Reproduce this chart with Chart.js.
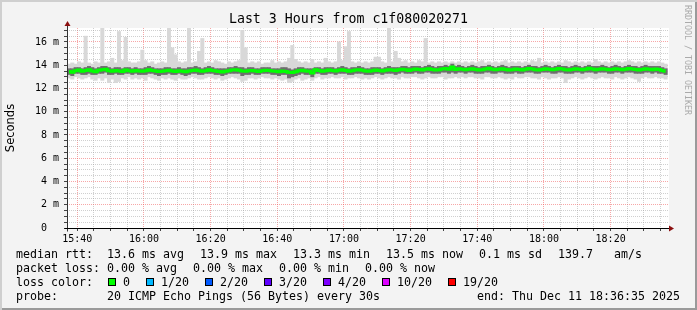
<!DOCTYPE html>
<html>
<head>
<meta charset="utf-8">
<script src="https://cdn.jsdelivr.net/npm/chart.js@4.4.1/dist/chart.umd.min.js"></script>
<style>
  html, body { margin: 0; padding: 0; background: #f3f3f3; }
  #wrap {
    position: relative; width: 697px; height: 310px; overflow: hidden;
    background: #f3f3f3;
    box-shadow: inset 2px 2px 0 #cfcfcf, inset -2px -2px 0 #9a9a9a;
  }
  #chart { position: absolute; left: 0; top: 0; }
  .mono { position: absolute; font-family: "DejaVu Sans Mono", monospace; color: #000; white-space: pre; }
  #title { left: 0; width: 697px; text-align: center; top: 11px; font-size: 13.24px; line-height: 16px; }
  #credit { left: 683px; top: 5px; font-size: 8.3px; line-height: 10px; color: #aaa; writing-mode: vertical-rl; }
  .leg { left: 16px; font-size: 11.63px; line-height: 14px; }
  .lab { display: inline-block; width: 91px; }
  .gap { display: inline-block; width: 16px; }
  .sq { display: inline-block; width: 6px; height: 6px; border: 1px solid #000; margin: 0 7px 0 1px; }
  #end { right: 17px; left: auto; }
</style>
</head>
<body>
<div id="wrap">
  <canvas id="chart" width="697" height="310"></canvas>
  <div id="title" class="mono">Last 3 Hours from c1f080020271</div>
  <div id="credit" class="mono">RRDTOOL / TOBI OETIKER</div>
  <div id="leg1" class="mono leg" style="top:247px"></div>
  <div id="leg2" class="mono leg" style="top:261px"></div>
  <div id="leg3" class="mono leg" style="top:275px"></div>
  <div id="leg4" class="mono leg" style="top:289px"></div>
  <div id="end" class="mono leg" style="top:289px"></div>
</div>
<script>
// one sample per minute, first one at 15:37 (minutes counted from 15:00)
const startMinute = 37;

const median = [
  13.45,13.40,13.52,13.58,13.47,13.55,13.62,13.50,13.44,13.56,13.60,13.65,13.52,13.48,13.55,13.50,13.46,13.58,13.52,13.49,
  13.55,13.50,13.47,13.52,13.60,13.54,13.50,13.45,13.48,13.52,13.56,13.50,13.46,13.53,13.49,13.44,13.50,13.55,13.58,13.52,
  13.48,13.52,13.60,13.55,13.50,13.46,13.42,13.48,13.53,13.58,13.62,13.56,13.50,13.47,13.52,13.55,13.50,13.46,13.52,13.57,
  13.54,13.50,13.47,13.44,13.50,13.46,13.40,13.38,13.44,13.52,13.56,13.50,13.47,13.32,13.60,13.55,13.49,13.52,13.58,13.54,
  13.50,13.56,13.60,13.55,13.48,13.52,13.58,13.62,13.56,13.50,13.47,13.53,13.58,13.55,13.50,13.56,13.62,13.58,13.54,13.60,
  13.65,13.60,13.55,13.62,13.68,13.63,13.58,13.66,13.70,13.64,13.58,13.62,13.68,13.72,13.66,13.85,13.64,13.70,13.65,13.60,
  13.66,13.70,13.64,13.58,13.62,13.68,13.74,13.66,13.60,13.65,13.70,13.64,13.58,13.62,13.68,13.63,13.58,13.66,13.72,13.67,
  13.62,13.58,13.64,13.70,13.66,13.60,13.65,13.72,13.68,13.62,13.58,13.64,13.70,13.66,13.61,13.66,13.74,13.68,13.62,13.66,
  13.70,13.66,13.60,13.64,13.70,13.65,13.60,13.66,13.72,13.68,13.63,13.58,13.64,13.70,13.66,13.62,13.68,13.64,13.55,13.48
];

// darker smoke around the median
const coreLo = [
  13.2,13.1,13.3,13.3,13.2,13.2,13.3,13.2,13.2,13.3,13.3,13.4,13.2,13.2,13.3,13.2,13.2,13.3,13.3,13.2,
  13.3,13.2,13.2,13.2,13.3,13.3,13.2,13.1,13.2,13.2,13.3,13.2,13.2,13.3,13.2,13.1,13.2,13.3,13.3,13.2,
  13.2,13.3,13.3,13.3,13.2,13.2,13.1,13.2,13.3,13.3,13.3,13.3,13.1,13.2,13.2,13.3,13.2,13.2,13.3,13.3,
  13.3,13.2,13.2,13.1,13.2,13.2,12.9,13.0,13.1,13.2,13.3,13.2,13.2,13.0,13.3,13.3,13.2,13.2,13.3,13.3,
  13.2,13.3,13.3,13.3,13.2,13.2,13.3,13.3,13.3,13.2,13.2,13.2,13.3,13.3,13.2,13.3,13.3,13.3,13.2,13.3,
  13.4,13.3,13.3,13.3,13.4,13.3,13.3,13.4,13.4,13.3,13.3,13.3,13.4,13.4,13.3,13.4,13.3,13.4,13.4,13.3,
  13.4,13.4,13.3,13.3,13.3,13.4,13.4,13.3,13.3,13.4,13.4,13.3,13.3,13.3,13.4,13.3,13.3,13.4,13.4,13.4,
  13.3,13.3,13.4,13.4,13.4,13.3,13.3,13.4,13.4,13.3,13.3,13.3,13.4,13.4,13.3,13.4,13.4,13.4,13.3,13.4,
  13.4,13.4,13.3,13.3,13.4,13.4,13.3,13.4,13.4,13.4,13.3,13.3,13.3,13.4,13.4,13.3,13.4,13.3,13.3,13.2
];
const coreHi = [
  13.7,13.7,13.8,13.8,13.7,13.8,13.9,13.8,13.7,13.8,13.9,13.9,13.8,13.7,13.8,13.8,13.7,13.8,13.8,13.7,
  13.8,13.7,13.7,13.8,13.9,13.8,13.7,13.7,13.7,13.8,13.8,13.7,13.7,13.8,13.7,13.7,13.8,13.8,13.9,13.8,
  13.7,13.8,13.9,13.8,13.7,13.7,13.7,13.7,13.8,13.8,13.9,13.8,13.8,13.7,13.8,13.8,13.7,13.7,13.8,13.8,
  13.8,13.7,13.7,13.7,13.8,13.8,13.7,13.6,13.7,13.8,13.8,13.7,13.7,13.7,13.8,13.8,13.7,13.8,13.8,13.8,
  13.7,13.8,13.9,13.8,13.7,13.8,13.8,13.9,13.8,13.7,13.7,13.8,13.8,13.8,13.7,13.8,13.9,13.8,13.8,13.8,
  13.9,13.9,13.8,13.9,13.9,13.9,13.8,13.9,14.0,13.9,13.8,13.9,13.9,14.0,13.9,14.1,13.9,14.0,13.9,13.8,
  13.9,14.0,13.9,13.8,13.9,13.9,14.0,13.9,13.8,13.9,14.0,13.9,13.8,13.9,13.9,13.9,13.8,13.9,14.0,13.9,
  13.9,13.8,13.9,14.0,13.9,13.8,13.9,14.0,13.9,13.9,13.8,13.9,14.0,13.9,13.8,13.9,14.0,13.9,13.9,13.9,
  14.0,13.9,13.8,13.9,14.0,13.9,13.8,13.9,14.0,13.9,13.9,13.8,13.9,14.0,13.9,13.9,13.9,13.9,13.8,13.7
];

// full spread of the 20 pings (lightest smoke)
const smokeLo = [
  12.9,12.8,13.0,12.9,12.8,12.9,13.0,12.8,12.7,12.9,12.7,12.9,12.5,12.8,12.5,12.6,12.9,12.8,13.0,12.8,
  12.9,12.8,12.9,12.7,13.0,12.9,12.8,12.7,12.9,12.8,12.9,12.8,12.7,12.9,12.8,12.8,12.9,13.0,12.9,12.8,
  12.8,12.9,13.0,12.9,12.8,12.9,12.7,12.8,12.9,13.0,12.9,12.8,12.6,12.7,12.9,12.9,12.8,12.9,13.0,12.9,
  12.9,12.8,12.9,12.8,12.7,12.8,12.5,12.6,12.8,12.9,12.7,12.8,12.9,12.7,12.9,13.0,12.8,12.9,12.9,13.0,
  12.9,12.9,13.0,12.8,12.9,12.9,13.0,12.9,12.8,12.9,12.8,12.9,13.0,12.9,12.8,12.9,13.0,12.9,12.9,12.8,
  13.0,12.9,12.9,13.0,13.0,12.9,12.8,12.9,13.0,12.9,12.9,13.0,13.0,12.8,12.9,12.9,13.0,12.9,13.0,12.9,
  13.0,13.0,12.9,12.9,12.8,13.0,13.0,12.9,12.9,13.0,12.9,12.8,12.9,12.8,13.0,12.9,12.9,13.0,13.0,12.9,
  12.9,12.8,13.0,12.9,12.8,12.9,12.9,13.0,12.9,12.5,12.8,12.9,13.0,12.9,12.8,12.9,13.0,12.9,12.8,12.9,
  13.0,12.9,12.9,12.8,13.0,12.9,12.8,12.9,13.0,12.9,12.8,12.6,12.9,13.0,12.9,12.9,13.0,12.9,12.9,12.8
];
const smokeHi = [
  14.1,14.2,14.1,14.3,14.2,16.5,14.2,14.1,14.3,14.2,17.5,14.2,14.3,14.6,14.2,16.9,14.4,16.4,14.3,14.2,
  14.2,14.3,15.3,14.4,14.2,14.3,14.1,14.2,14.3,14.2,17.5,15.5,14.9,14.3,14.2,14.3,17.5,14.2,14.3,15.2,
  16.3,14.2,14.3,14.2,14.4,14.3,14.2,14.1,14.3,14.2,14.3,14.4,17.0,15.5,14.2,14.3,14.2,14.3,14.1,14.2,
  14.2,14.4,14.2,14.3,14.2,14.3,14.6,15.7,14.5,14.3,14.2,14.3,14.2,14.5,14.2,14.3,14.2,14.6,14.3,14.2,
  14.3,16.0,14.4,15.6,16.9,14.3,14.2,14.3,14.2,14.3,14.2,14.3,14.7,14.7,14.3,14.2,17.5,14.3,15.2,14.6,
  14.3,14.4,14.2,14.3,14.2,14.4,14.3,16.3,14.2,14.3,14.2,14.3,14.2,14.3,14.2,14.3,14.2,14.3,14.2,14.3,
  14.2,14.3,14.2,14.3,14.4,14.2,14.3,14.2,14.3,14.2,14.3,14.4,14.2,14.3,14.2,14.3,14.2,14.3,14.2,14.4,
  14.3,14.6,14.2,14.3,14.2,14.3,14.2,14.3,14.2,14.4,14.3,14.2,14.3,14.2,14.3,14.2,14.3,14.2,14.5,14.3,
  14.2,14.3,14.2,14.3,14.2,14.3,14.2,14.3,14.4,14.3,14.2,14.3,14.2,14.3,14.2,14.3,14.2,14.3,14.2,14.1
];

const timeLabels = ['15:40', '16:00', '16:20', '16:40', '17:00', '17:20', '17:40', '18:00', '18:20'];
const yLabels = ['0  ', '2 m', '4 m', '6 m', '8 m', '10 m', '12 m', '14 m', '16 m'];

const statNames = ['avg', 'max', 'min', 'now'];
const rttStats = ['13.6', '13.9', '13.3', '13.5'];
const rttSd = '0.1';
const rttAmps = '139.7';
const lossStats = ['0.00', '0.00', '0.00', '0.00'];
const lossLevels = ['0', '1/20', '2/20', '3/20', '4/20', '10/20', '19/20'];
const lossColors = ['#00ff00', '#00b8ff', '#0059ff', '#5e00ff', '#7e00ff', '#dd00ff', '#ff0000'];

// legend
const gap = '<span class="gap"></span>';
document.getElementById('leg1').innerHTML = '<span class="lab">median rtt:</span>' +
  rttStats.map((v, i) => v + ' ms ' + statNames[i]).join(gap) + gap + rttSd + ' ms sd' + gap + rttAmps + '   am/s';
document.getElementById('leg2').innerHTML = '<span class="lab">packet loss:</span>' +
  lossStats.map((v, i) => v + ' % ' + statNames[i]).join(gap);
document.getElementById('leg3').innerHTML = '<span class="lab">loss color:</span>' +
  lossLevels.map((l, i) => '<span class="sq" style="background:' + lossColors[i] + '"></span>' + l).join('<span class="gap" style="width:15px"></span>');
document.getElementById('leg4').innerHTML = '<span class="lab">probe:</span>20 ICMP Echo Pings (56 Bytes) every 30s';
document.getElementById('end').textContent = 'end: Thu Dec 11 18:36:35 2025';

const minutes = median.map((v, i) => startMinute + i + 0.5);

const majorGrid = 'rgba(240, 80, 80, 0.5)';
const minorGrid = 'rgba(150, 150, 150, 0.45)';

const rrdFrame = {
  id: 'rrdFrame',
  beforeDraw(chart) {
    const { ctx, chartArea: a } = chart;
    ctx.save();
    ctx.fillStyle = '#ffffff';
    ctx.fillRect(a.left, a.top, a.right - a.left, a.bottom - a.top);
    ctx.restore();
  },
  afterDraw(chart) {
    const { ctx, chartArea: a } = chart;
    const x0 = Math.round(a.left) + 0.5;
    const y0 = Math.round(a.bottom) + 0.5;
    ctx.save();
    ctx.lineWidth = 1;
    ctx.strokeStyle = '#333333';
    ctx.beginPath();
    ctx.moveTo(x0, y0 + 3);
    ctx.lineTo(x0, a.top - 4);
    ctx.stroke();
    ctx.strokeStyle = '#000000';
    ctx.beginPath();
    ctx.moveTo(x0 - 3, y0);
    ctx.lineTo(a.right + 1, y0);
    ctx.stroke();
    // arrows
    ctx.fillStyle = '#8b1010';
    ctx.beginPath();
    ctx.moveTo(x0 - 3, a.top - 2);
    ctx.lineTo(x0 + 3, a.top - 2);
    ctx.lineTo(x0, a.top - 7);
    ctx.closePath();
    ctx.fill();
    ctx.beginPath();
    ctx.moveTo(a.right, y0 - 3);
    ctx.lineTo(a.right, y0 + 3);
    ctx.lineTo(a.right + 5, y0);
    ctx.closePath();
    ctx.fill();
    ctx.restore();
  }
};

new Chart(document.getElementById('chart'), {
  type: 'bar',
  data: {
    datasets: [
      {
        type: 'line',
        label: 'median',
        data: minutes.map((m, i) => ({ x: m, y: median[i] })),
        borderColor: '#00ff00',
        borderWidth: 3,
        pointRadius: 0,
        stepped: 'middle',
        order: 0
      },
      {
        label: 'core',
        data: minutes.map((m, i) => ({ x: m, y: [coreLo[i], coreHi[i]] })),
        backgroundColor: '#6e6e6e',
        grouped: false,
        barPercentage: 1,
        categoryPercentage: 1,
        order: 1
      },
      {
        label: 'smoke',
        data: minutes.map((m, i) => ({ x: m, y: [smokeLo[i], smokeHi[i]] })),
        backgroundColor: '#d8d8d8',
        grouped: false,
        barPercentage: 1,
        categoryPercentage: 1,
        order: 2
      }
    ]
  },
  options: {
    responsive: false,
    animation: false,
    devicePixelRatio: 1,
    events: [],
    layout: { padding: { top: 28, right: 28, left: 0, bottom: 0 } },
    plugins: { legend: { display: false }, tooltip: { enabled: false } },
    scales: {
      x: {
        type: 'linear',
        min: 36.91,
        max: 217.51,
        offset: false,
        afterFit: (scale) => { scale.height = 82; },
        border: { display: false, dash: [1, 1] },
        grid: {
          offset: false,
          color: (c) => (c.tick && c.tick.value % 20 === 0 ? majorGrid : minorGrid),
          tickColor: '#444',
          tickLength: 3
        },
        ticks: {
          stepSize: 5,
          includeBounds: false,
          autoSkip: false,
          maxRotation: 0,
          padding: 2,
          color: '#000',
          font: { family: 'DejaVu Sans Mono', size: 10 },
          callback: (v) => (v % 20 === 0 ? (timeLabels[(v - 40) / 20] || '') : '')
        }
      },
      y: {
        min: 0,
        max: 17.2,
        afterFit: (scale) => { scale.width = 67; },
        border: { display: false, dash: [1, 1] },
        grid: {
          color: (c) => (c.tick && c.tick.value % 2 === 0 ? majorGrid : minorGrid),
          tickColor: '#444',
          tickLength: 3
        },
        title: {
          display: true,
          text: 'Seconds',
          color: '#000',
          font: { family: 'DejaVu Sans', size: 11.5 },
          padding: { top: 4, bottom: 0 }
        },
        ticks: {
          stepSize: 0.5,
          includeBounds: false,
          autoSkip: false,
          padding: 5,
          color: '#000',
          font: { family: 'DejaVu Sans Mono', size: 10 },
          callback: (v) => (Math.abs(v % 2) < 1e-9 ? (yLabels[v / 2] || '') : '')
        }
      }
    }
  },
  plugins: [rrdFrame]
});
</script>
</body>
</html>
